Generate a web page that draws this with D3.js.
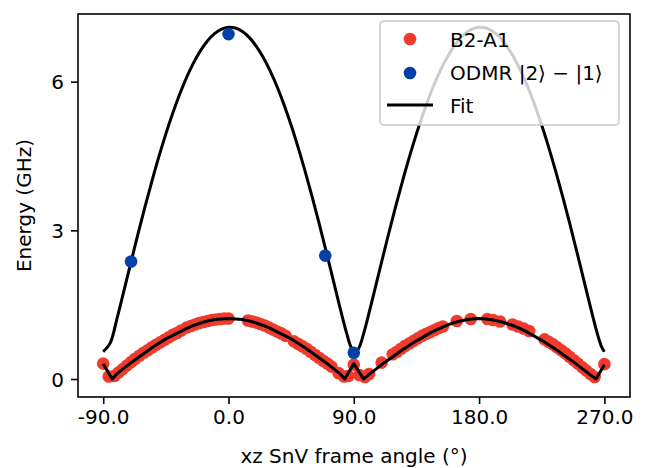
<!DOCTYPE html>
<html>
<head>
<meta charset="utf-8">
<script src="https://cdn.jsdelivr.net/npm/d3@7"></script>
<style>
html,body{margin:0;padding:0;background:#fff;}
svg text{font-family:"DejaVu Sans",sans-serif;fill:#000;}
</style>
</head>
<body>
<svg id="chart" width="646" height="468"></svg>
<script>
// ---- data ----
const redAngle = [-90,-86,-82,-79,-76,-73,-70,-67,-64,-61,-58,-55,-52,-49,-46,-43,-40,-37,-34,-30,-27,-24,-21,-18,-15,-12,-9,-6,-3,0,
  14,17,20,23,26,29,32,35,38,41,47,50,53,56,59,62,65,68,71,74,79,83,86,90,94,98,101,110,
  118,121,124,127,130,133,136,139,142,145,148,151,154,164,174,186,190,195,204,208,212,216,
  227,230,233,236,239,242,245,248,251,254,257,260,263,270];
const redValue = [0.31,0.05,0.06,0.13,0.20,0.27,0.34,0.41,0.47,0.53,0.58,0.64,0.69,0.74,0.79,0.84,0.89,0.93,0.98,1.04,1.07,1.10,1.13,1.15,1.17,1.19,1.20,1.21,1.22,1.22,
  1.18,1.16,1.14,1.11,1.08,1.04,1.00,0.96,0.92,0.87,0.76,0.71,0.66,0.61,0.55,0.49,0.43,0.37,0.31,0.25,0.12,0.05,0.06,0.29,0.08,0.04,0.10,0.33,
  0.50,0.55,0.61,0.67,0.72,0.77,0.82,0.87,0.91,0.95,0.99,1.03,1.06,1.17,1.21,1.21,1.19,1.16,1.10,1.06,1.02,0.97,
  0.80,0.75,0.70,0.64,0.58,0.52,0.45,0.38,0.31,0.24,0.17,0.10,0.04,0.30];

const blueAngle = [-70, 0, 69.5, 90];
const blueValue = [2.37, 6.96, 2.49, 0.53];

const fitUpperAngle = [-90,-85,-80,-75,-70,-65,-60,-55,-50,-45,-40,-35,-30,-25,-20,-15,-10,-5,0,5,10,15,20,25,30,35,40,45,50,55,60,65,70,75,80,85,88,91,94,97,100,105,110,115,120,125,130,135,140,145,150,155,160,165,170,175,180,185,190,195,200,205,210,215,220,225,230,235,240,245,250,255,260,265,268,270];
const fitUpperValue = [0.55,0.725,1.228,1.793,2.365,2.928,3.473,3.994,4.487,4.947,5.369,5.752,6.092,6.385,6.631,6.827,6.970,7.061,7.099,7.083,7.013,6.890,6.715,6.489,6.215,5.893,5.527,5.121,4.675,4.195,3.684,3.149,2.592,2.022,1.451,0.910,0.647,0.530,0.647,0.910,1.228,1.793,2.365,2.928,3.473,3.994,4.487,4.947,5.369,5.752,6.092,6.385,6.631,6.827,6.970,7.061,7.099,7.083,7.013,6.890,6.715,6.489,6.215,5.893,5.527,5.121,4.675,4.195,3.684,3.149,2.592,2.022,1.451,0.910,0.647,0.550];

const fitLowerAngle = [-90,-83.5,-80,-75,-70,-65,-60,-55,-50,-45,-40,-35,-30,-25,-20,-15,-10,-5,0,5,10,15,20,25,30,35,40,45,50,55,60,65,70,75,80,83.5,90,97,100,105,110,115,120,125,130,135,140,145,150,155,160,165,170,175,180,185,190,195,200,205,210,215,220,225,230,235,240,245,250,255,260,264,270];
const fitLowerValue = [0.31,0.0,0.11,0.22,0.33,0.43,0.53,0.63,0.72,0.81,0.88,0.95,1.02,1.08,1.13,1.17,1.20,1.21,1.22,1.21,1.20,1.17,1.13,1.08,1.02,0.95,0.88,0.81,0.72,0.63,0.53,0.43,0.33,0.22,0.11,0.0,0.31,0.0,0.07,0.18,0.29,0.39,0.49,0.59,0.68,0.77,0.85,0.93,1.00,1.06,1.12,1.16,1.19,1.21,1.22,1.21,1.19,1.16,1.12,1.07,1.01,0.94,0.86,0.78,0.69,0.60,0.50,0.40,0.30,0.19,0.08,0.0,0.29];

const xTicks = [-90, 0, 90, 180, 270];
const yTicks = [0, 3, 6];
const legendLabels = ["B2-A1", "ODMR |2⟩ − |1⟩", "Fit"];

// ---- layout ----
const L = 78, R = 630, T = 14, B = 397;
const FS = 20;
const svg = d3.select("#chart");

const x = d3.scaleLinear().domain([-108.1, 288.4]).range([L, R]);
const y = d3.scaleLinear().domain([-0.363, 7.366]).range([B, T]);

const red = "#EF3B2E", blue = "#0440A8";

svg.append("defs").append("clipPath").attr("id","clip")
  .append("rect").attr("x",L).attr("y",T).attr("width",R-L).attr("height",B-T);

const plot = svg.append("g").attr("clip-path","url(#clip)");

plot.append("g").selectAll("circle").data(redAngle.map((a,i)=>[a,redValue[i]]))
  .join("circle").attr("cx",d=>x(d[0])).attr("cy",d=>y(d[1])).attr("r",6.3).attr("fill",red);

const upper = fitUpperAngle.map((a,i)=>[a,fitUpperValue[i]]);
const lower = fitLowerAngle.map((a,i)=>[a,fitLowerValue[i]]);
plot.append("path").datum(upper)
  .attr("d", d3.line().x(d=>x(d[0])).y(d=>y(d[1])).curve(d3.curveCatmullRom.alpha(0.5)))
  .attr("fill","none").attr("stroke","#000").attr("stroke-width",3).attr("stroke-linejoin","round");
plot.append("path").datum(lower)
  .attr("d", d3.line().x(d=>x(d[0])).y(d=>y(d[1])))
  .attr("fill","none").attr("stroke","#000").attr("stroke-width",3).attr("stroke-linejoin","round");

plot.append("g").selectAll("circle").data(blueAngle.map((a,i)=>[a,blueValue[i]]))
  .join("circle").attr("cx",d=>x(d[0])).attr("cy",d=>y(d[1])).attr("r",6.3).attr("fill",blue);

const xAxis = d3.axisBottom(x).tickValues(xTicks).tickFormat(d=>d.toFixed(1)).tickSize(7).tickPadding(6);
const gx = svg.append("g").attr("transform",`translate(0,${B})`).call(xAxis);
const yAxis = d3.axisLeft(y).tickValues(yTicks).tickFormat(d=>String(d)).tickSize(7).tickPadding(7);
const gy = svg.append("g").attr("transform",`translate(${L},0)`).call(yAxis);
[gx,gy].forEach(g=>{
  g.select(".domain").remove();
  g.selectAll(".tick line").attr("stroke","#000").attr("stroke-width",1.6);
  g.selectAll(".tick text").attr("font-size",FS).attr("font-family","DejaVu Sans").attr("fill","#000");
});
gy.selectAll(".tick text").attr("dy","0.36em");

svg.append("rect").attr("x",L).attr("y",T).attr("width",R-L).attr("height",B-T)
  .attr("fill","none").attr("stroke","#000").attr("stroke-width",1.6);

svg.append("text").attr("x",(L+R)/2).attr("y",463).attr("text-anchor","middle")
  .attr("font-size",FS).text("xz SnV frame angle (°)");
svg.append("text").attr("transform",`translate(31,${(T+B)/2}) rotate(-90)`).attr("text-anchor","middle")
  .attr("font-size",FS).text("Energy (GHz)");

const lg = svg.append("g");
lg.append("rect").attr("x",380).attr("y",21).attr("width",239).attr("height",104).attr("rx",4)
  .attr("fill","#fff").attr("fill-opacity",0.8).attr("stroke","#cccccc").attr("stroke-width",1.6);
lg.append("circle").attr("cx",410).attr("cy",39).attr("r",6.3).attr("fill",red);
lg.append("circle").attr("cx",410).attr("cy",73).attr("r",6.3).attr("fill",blue);
lg.append("line").attr("x1",387).attr("x2",433).attr("y1",105).attr("y2",105).attr("stroke","#000").attr("stroke-width",3);
const lgY = [46.5, 80, 112.5];
legendLabels.forEach((t,i)=>{
  lg.append("text").attr("x",450).attr("y",lgY[i]).attr("font-size",FS).text(t);
});
</script>
</body>
</html>
